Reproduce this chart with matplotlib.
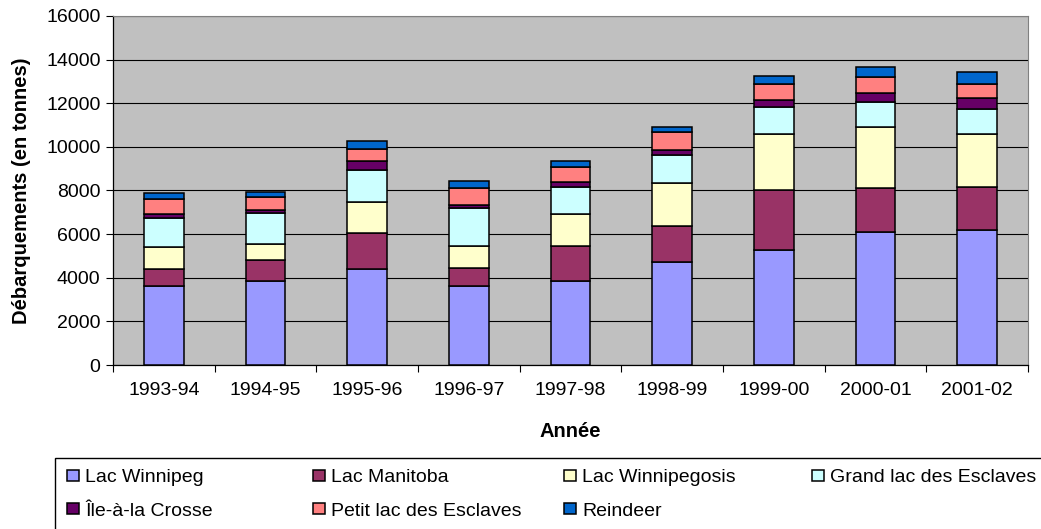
import numpy as np
import matplotlib
matplotlib.use('Agg')
import matplotlib.pyplot as plt
from matplotlib.patches import Rectangle

plt.rcParams['font.family'] = ['Liberation Sans', 'DejaVu Sans']

years = ['1993-94', '1994-95', '1995-96', '1996-97', '1997-98',
         '1998-99', '1999-00', '2000-01', '2001-02']

# Landings per lake (tonnes)
winnipeg = [3640, 3870, 4380, 3640, 3870, 4710, 5290, 6110, 6200]
manitoba = [760, 930, 1650, 820, 1570, 1650, 2720, 1990, 1980]
winnipegosis = [1000, 750, 1420, 1000, 1500, 2000, 2580, 2810, 2410]
grand_lac = [1350, 1400, 1480, 1720, 1240, 1250, 1250, 1160, 1160]
ile_crosse = [180, 150, 440, 160, 220, 230, 330, 420, 480]
petit_lac = [670, 600, 530, 760, 690, 830, 730, 730, 650]
reindeer = [270, 250, 350, 320, 260, 240, 340, 440, 540]

series = [winnipeg, manitoba, winnipegosis, grand_lac,
          ile_crosse, petit_lac, reindeer]
names = ['Lac Winnipeg', 'Lac Manitoba', 'Lac Winnipegosis',
         'Grand lac des Esclaves', 'Île-à-la Crosse',
         'Petit lac des Esclaves', 'Reindeer']
colors = ['#9999FF', '#993366', '#FFFFCC', '#CCFFFF',
          '#660066', '#FF8080', '#0066CC']

fig = plt.figure(figsize=(10.41, 5.29), dpi=100)
ax = fig.add_axes([113/1041, 1-365/529, (1028-113)/1041, (365-16)/529])
ax.set_facecolor('#C0C0C0')

x = np.arange(len(years))
bottom = np.zeros(len(years))
handles = []
for vals, name, col in zip(series, names, colors):
    b = ax.bar(x, vals, width=0.39, bottom=bottom, color=col,
               edgecolor='black', linewidth=1.1, label=name, zorder=3)
    handles.append(b)
    bottom += np.array(vals)

ax.set_xlim(-0.5, len(years) - 0.5)
ax.set_ylim(0, 16000)
ax.set_yticks(np.arange(0, 16001, 2000))
ax.yaxis.grid(True, color='black', linewidth=0.8, zorder=1)
ax.set_xticks(x)
ax.set_xticklabels(years)
ax.set_xticks(np.arange(-0.5, len(years)), minor=True)
ax.tick_params(axis='x', which='major', length=0, pad=12, labelsize=14)
ax.tick_params(axis='x', which='minor', length=5, width=0.8, direction='out')
ax.tick_params(axis='y', length=5, width=0.8, direction='out', labelsize=14, pad=4)

for s in ['top', 'right']:
    ax.spines[s].set_color('#808080')
    ax.spines[s].set_linewidth(0.8)
for s in ['left', 'bottom']:
    ax.spines[s].set_color('black')
    ax.spines[s].set_linewidth(0.9)

ax.set_xlabel('Année', fontsize=14.5, fontweight='bold', labelpad=17)
ax.set_ylabel('Débarquements (en tonnes)', fontsize=14.5, fontweight='bold', labelpad=11)

# legend box spanning the bottom, four columns
fig.patches.append(Rectangle((55/1041, -0.01), 1.1, 1-458/529 + 0.01,
                             transform=fig.transFigure, facecolor='white',
                             edgecolor='black', linewidth=1.0))
col_x = [67, 313, 564, 812]
cols = [[0, 4], [1, 5], [2, 6], [3]]
for cx, idx in zip(col_x, cols):
    fig.legend([handles[i] for i in idx], [names[i] for i in idx],
               loc='upper left', bbox_to_anchor=(cx/1041, 1-469/529),
               frameon=False, fontsize=14, handlelength=0.6, handleheight=0.5,
               handletextpad=0.35, labelspacing=0.86, borderaxespad=0, borderpad=0)

fig.savefig('out.png', dpi=100)
